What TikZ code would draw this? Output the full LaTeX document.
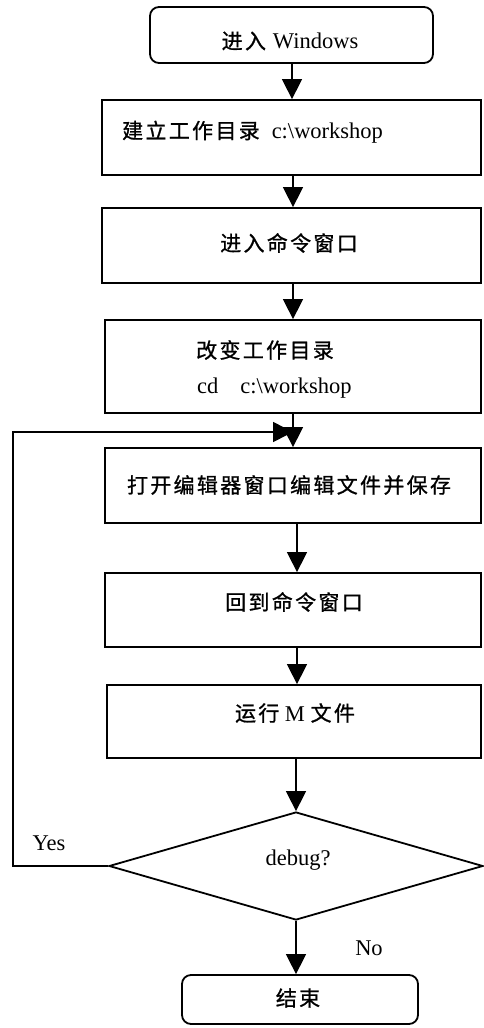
\documentclass[tikz,border=0pt]{standalone}
\usepackage{fontspec}
\setmainfont{Liberation Serif}
\newfontfamily\cjkfont{Noto Sans CJK SC}[LetterSpace=11,FakeBold=1]
\newcommand\zhtxt[1]{{\cjkfont\fontsize{21}{25}\selectfont #1}}
\usetikzlibrary{shapes.geometric,arrows.meta}
\begin{document}
\begin{tikzpicture}[x=1pt,y=-1pt,
  box/.style={draw,line width=1.8pt,inner sep=0pt},
  term/.style={box,rounded corners=9pt},
  lbl/.style={inner sep=0pt,font=\fontsize{22.5}{26}\selectfont},
  arr/.style={line width=1.5pt,-{Triangle[length=20pt,width=20pt]}}]
\useasboundingbox (0,0) rectangle (483,1028);
% column coordinates for connectors
\coordinate (ca) at (292,0);
\coordinate (cb) at (293,0);
\coordinate (cc) at (297,0);
% boxes
\node[term,minimum width=283pt,minimum height=56pt] (start) at (291.5,35) {};
\node[box,minimum width=379pt,minimum height=75pt] (b2) at (291.5,137.5) {};
\node[box,minimum width=379pt,minimum height=75pt] (b3) at (291.5,245.5) {};
\node[box,minimum width=376pt,minimum height=93pt] (b4) at (293,366.5) {};
\node[box,minimum width=376pt,minimum height=75pt] (b5) at (293,485.5) {};
\node[box,minimum width=376pt,minimum height=74pt] (b6) at (293,610) {};
\node[box,minimum width=374pt,minimum height=73pt] (b7) at (294,721.5) {};
\node[draw,diamond,line width=1.8pt,inner sep=0pt,minimum width=374pt,minimum height=108pt] (dec) at (296,866) {};
\node[term,minimum width=236pt,minimum height=49pt] (end) at (300,999.5) {};
% texts
\node[lbl] (t1) at (290,41) {\zhtxt{进入}\hspace{7pt}Windows};
\node[lbl,anchor=west] (t2) at (122,132) {\zhtxt{建立工作目录}\hspace{12pt}c:\textbackslash workshop};
\node[lbl] (t3) at (289,243) {\zhtxt{进入命令窗口}};
\node[lbl,anchor=west] (t4a) at (196,350) {\zhtxt{改变工作目录}};
\node[lbl,anchor=west] (t4b) at (197,388) {cd\hspace{22pt}c:\textbackslash workshop};
\node[lbl] (t5) at (289,485) {\zhtxt{打开编辑器窗口编辑文件并保存}};
\node[lbl] (t6) at (294,602) {\zhtxt{回到命令窗口}};
\node[lbl] (t7) at (295,713) {\zhtxt{运行} M \zhtxt{文件}};
\node[lbl] (t8) at (298,860) {debug?};
\node[lbl] (t9) at (298,998) {\zhtxt{结束}};
\node[lbl] (yes) at (49,843) {Yes};
\node[lbl] (no) at (369,948) {No};
% connectors
\draw[arr] (start.south -| ca) -- (b2.north -| ca);
\draw[arr] (b2.south -| cb) -- (b3.north -| cb);
\draw[arr] (b3.south -| cb) -- (b4.north -| cb);
\draw[arr] (b4.south -| cb) -- (b5.north -| cb);
\draw[arr] (b5.south -| cc) -- (b6.north -| cc);
\draw[arr] (b6.south -| cc) -- (b7.north -| cc);
\draw[arr] (b7.south -| dec.north) -- (dec.north);
\draw[arr] (dec.south) -- (end.north -| dec.south);
\coordinate (loopx) at (13,0);
\coordinate (join) at (293,432);
\draw[arr] (dec.west) -- (dec.west -| loopx) -- (join -| loopx) -- (join);
\end{tikzpicture}
\end{document}
